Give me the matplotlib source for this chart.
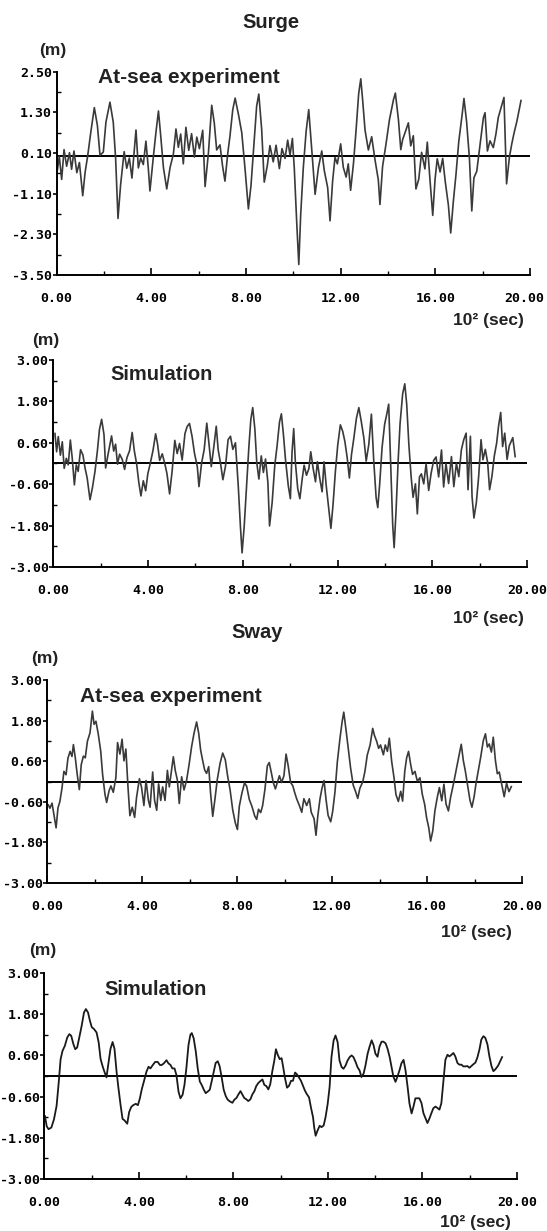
import matplotlib
matplotlib.use("Agg")
import matplotlib.pyplot as plt
from matplotlib.transforms import ScaledTranslation

# Surge, at-sea experiment (time in 10^2 s, displacement in m)
surge_exp_t = [
    0.03, 0.11, 0.21, 0.31, 0.42, 0.54, 0.63, 0.73, 0.85, 0.96,
    1.10, 1.20, 1.31, 1.44, 1.59, 1.72, 1.83, 1.97, 2.08, 2.25,
    2.39, 2.49, 2.59, 2.70, 2.85, 2.96, 3.07, 3.18, 3.30, 3.35,
    3.45, 3.55, 3.66, 3.77, 3.87, 3.94, 4.08, 4.20, 4.30, 4.39,
    4.51, 4.65, 4.79, 4.93, 5.04, 5.14, 5.24, 5.35, 5.46, 5.58,
    5.70, 5.82, 5.92, 6.03, 6.17, 6.27, 6.41, 6.55, 6.66, 6.76,
    6.90, 7.01, 7.11, 7.23, 7.32, 7.44, 7.54, 7.68, 7.82, 7.96,
    8.10, 8.21, 8.34, 8.45, 8.54, 8.66, 8.77, 8.90, 9.01, 9.15,
    9.27, 9.41, 9.52, 9.65, 9.76, 9.86, 9.96, 10.04, 10.14, 10.23,
    10.31, 10.42, 10.54, 10.65, 10.77, 10.92, 11.06, 11.20, 11.31, 11.45,
    11.55, 11.66, 11.76, 11.86, 12.00, 12.11, 12.23, 12.32, 12.42, 12.54,
    12.65, 12.76, 12.85, 12.93, 13.03, 13.17, 13.31, 13.45, 13.59, 13.66,
    13.77, 13.92, 14.06, 14.23, 14.31, 14.44, 14.54, 14.62, 14.72, 14.86,
    14.96, 15.07, 15.18, 15.30, 15.42, 15.56, 15.66, 15.77, 15.89, 15.99,
    16.08, 16.20, 16.31, 16.42, 16.55, 16.65, 16.76, 16.87, 16.99, 17.13,
    17.21, 17.32, 17.44, 17.54, 17.63, 17.75, 17.89, 18.03, 18.10, 18.20,
    18.31, 18.45, 18.56, 18.66, 18.80, 18.90, 19.01, 19.13, 19.23, 19.32,
    19.45, 19.62]
surge_exp_m = [
    -0.39, 0.00, -0.68, 0.20, -0.29, 0.11, -0.38, 0.16, -0.48, -0.18,
    -1.16, -0.47, 0.02, 0.71, 1.44, 0.91, 0.03, 0.13, 1.01, 1.60,
    1.01, -0.06, -1.83, -0.84, 0.14, -0.35, -0.05, -0.64, 0.34, 0.78,
    -0.34, -0.05, -0.24, 0.45, -0.34, -1.02, -0.04, 0.75, 1.34, 0.65,
    -0.33, -0.96, -0.33, 0.07, 0.81, 0.27, 0.66, -0.22, 0.86, 0.18,
    0.67, -0.02, 0.57, 0.23, 0.77, -0.89, 0.09, 1.51, 0.98, 0.19,
    0.34, -0.29, -0.73, 0.10, 0.59, 1.38, 1.72, 1.24, 0.70, -0.38,
    -1.55, -0.86, 0.41, 1.49, 1.84, 0.81, -0.76, -0.27, 0.32, -0.16,
    0.33, -0.36, 0.23, -0.06, 0.48, 0.04, 0.53, -0.35, -1.92, -3.19,
    -1.72, -0.34, 0.74, 1.38, 0.25, -1.12, -0.33, 0.16, -0.43, -0.92,
    -1.90, -0.72, -0.03, -0.22, 0.37, -0.32, -0.61, -0.22, -1.00, -0.21,
    0.77, 1.85, 2.29, 1.65, 0.77, 0.19, 0.58, -0.10, -0.69, -1.42,
    -0.30, 0.39, 1.08, 1.67, 1.87, 1.09, 0.20, 0.50, 0.70, 0.99,
    0.31, 0.61, -0.96, -0.67, 0.12, -0.37, 0.42, -0.66, -1.74, -0.66,
    -0.07, -0.46, -0.06, -0.75, -1.43, -2.26, -1.33, -0.55, 0.44, 1.22,
    1.71, 1.03, -0.05, -1.61, -0.63, -0.44, 0.35, 1.14, 1.29, 0.16,
    0.46, 0.26, 0.66, 1.15, 1.49, 1.74, -0.81, -0.02, 0.37, 0.67,
    1.05, 1.65]

# Surge, simulation
surge_sim_t = [
    0.07, 0.14, 0.21, 0.30, 0.38, 0.46, 0.55, 0.63, 0.72, 0.80,
    0.89, 0.97, 1.05, 1.15, 1.25, 1.34, 1.43, 1.55, 1.65, 1.76,
    1.86, 1.95, 2.04, 2.14, 2.21, 2.31, 2.39, 2.46, 2.55, 2.63,
    2.71, 2.80, 2.91, 3.01, 3.11, 3.22, 3.33, 3.42, 3.52, 3.61,
    3.70, 3.80, 3.90, 3.99, 4.09, 4.21, 4.32, 4.40, 4.49, 4.60,
    4.71, 4.80, 4.91, 5.02, 5.13, 5.23, 5.33, 5.44, 5.56, 5.65,
    5.75, 5.86, 5.96, 6.08, 6.15, 6.26, 6.37, 6.48, 6.57, 6.67,
    6.78, 6.88, 6.96, 7.06, 7.16, 7.27, 7.38, 7.48, 7.58, 7.69,
    7.81, 7.90, 7.97, 8.06, 8.16, 8.26, 8.34, 8.42, 8.51, 8.59,
    8.68, 8.78, 8.87, 8.96, 9.06, 9.13, 9.24, 9.35, 9.45, 9.55,
    9.63, 9.72, 9.80, 9.92, 10.01, 10.08, 10.15, 10.22, 10.32, 10.41,
    10.51, 10.59, 10.69, 10.79, 10.87, 10.97, 11.07, 11.15, 11.25, 11.35,
    11.43, 11.52, 11.63, 11.72, 11.81, 11.91, 12.01, 12.12, 12.22, 12.31,
    12.41, 12.50, 12.59, 12.69, 12.80, 12.90, 13.00, 13.11, 13.21, 13.32,
    13.43, 13.53, 13.63, 13.70, 13.78, 13.88, 13.99, 14.08, 14.16, 14.25,
    14.33, 14.39, 14.47, 14.56, 14.64, 14.75, 14.84, 14.92, 15.01, 15.11,
    15.19, 15.29, 15.37, 15.46, 15.54, 15.64, 15.74, 15.85, 15.95, 16.06,
    16.16, 16.27, 16.39, 16.48, 16.58, 16.69, 16.81, 16.91, 17.02, 17.12,
    17.23, 17.33, 17.43, 17.51, 17.61, 17.68, 17.76, 17.86, 17.96, 18.06,
    18.14, 18.24, 18.34, 18.42, 18.52, 18.62, 18.72, 18.80, 18.89, 18.97,
    19.06, 19.16, 19.25, 19.40, 19.50]
surge_sim_m = [
    0.87, 0.34, 0.78, 0.24, 0.63, -0.14, 0.15, -0.04, 0.68, 0.15,
    -0.62, -0.04, -0.23, 0.40, 0.25, -0.13, -0.42, -1.05, -0.71, -0.23,
    0.36, 0.99, 1.28, 0.84, -0.13, 0.26, 0.55, 0.80, 0.36, 0.56,
    -0.02, 0.27, 0.12, -0.17, 0.17, 0.37, 0.90, 0.37, -0.02, -0.55,
    -0.94, -0.50, -0.79, -0.30, -0.01, 0.38, 0.86, 0.57, 0.09, 0.28,
    -0.01, -0.30, -0.88, -0.20, 0.67, 0.29, 0.58, 0.10, 0.87, 1.07,
    1.16, 0.78, 0.30, -0.09, -0.67, 0.01, 0.40, 1.17, 0.59, -0.09,
    0.50, 1.08, 0.40, 0.01, -0.47, -0.08, 0.69, 0.79, 0.41, 0.60,
    -0.66, -1.82, -2.59, -1.82, -0.65, 0.51, 1.28, 1.62, 1.00, 0.03,
    -0.45, 0.22, -0.26, 0.13, -0.55, -1.81, -1.13, -0.06, 0.52, 1.20,
    1.44, 0.81, 0.14, -0.64, -1.02, 0.33, 1.01, 0.04, -0.73, -1.02,
    -0.44, -0.05, -0.34, -0.15, 0.34, -0.14, -0.53, 0.05, -0.43, -0.82,
    0.05, -0.62, -1.30, -1.88, -1.20, -0.23, 0.54, 1.12, 0.93, 0.64,
    0.16, -0.42, 0.26, 0.74, 1.32, 1.62, 1.23, 0.75, 0.07, 0.55,
    1.43, 0.07, -0.99, -1.28, -0.60, 0.46, 1.14, 1.43, 1.72, -0.12,
    -1.78, -2.44, -1.39, 0.08, 1.15, 2.02, 2.31, 1.73, 0.57, -0.40,
    -0.98, -0.59, -1.46, -0.39, -0.30, -0.59, -0.01, -0.78, -0.29, 0.09,
    0.19, -0.39, 0.39, -0.68, 0.00, -0.58, 0.20, -0.67, 0.01, -0.38,
    0.40, 0.69, 0.88, -0.76, 0.79, -0.96, -1.58, -1.14, -0.37, 0.69,
    0.11, 0.41, 0.02, -0.76, -0.37, 0.22, 0.60, 1.09, 1.48, 0.49,
    0.88, 0.12, 0.51, 0.75, 0.20]

# Sway, at-sea experiment
sway_exp_t = [
    0.04, 0.11, 0.20, 0.28, 0.37, 0.45, 0.53, 0.62, 0.70, 0.79,
    0.87, 0.96, 1.04, 1.10, 1.18, 1.26, 1.35, 1.43, 1.52, 1.60,
    1.69, 1.80, 1.90, 1.97, 2.05, 2.15, 2.25, 2.33, 2.43, 2.50,
    2.60, 2.68, 2.78, 2.89, 2.96, 3.06, 3.15, 3.23, 3.31, 3.40,
    3.48, 3.58, 3.68, 3.76, 3.88, 3.97, 4.07, 4.16, 4.26, 4.33,
    4.44, 4.52, 4.61, 4.69, 4.78, 4.86, 4.96, 5.06, 5.14, 5.25,
    5.31, 5.39, 5.48, 5.56, 5.66, 5.76, 5.87, 5.98, 6.08, 6.18,
    6.29, 6.38, 6.46, 6.54, 6.63, 6.71, 6.80, 6.88, 6.97, 7.06,
    7.16, 7.28, 7.39, 7.50, 7.60, 7.70, 7.81, 7.92, 8.01, 8.09,
    8.20, 8.31, 8.40, 8.51, 8.62, 8.74, 8.82, 8.90, 8.99, 9.07,
    9.17, 9.27, 9.35, 9.44, 9.52, 9.61, 9.69, 9.78, 9.87, 9.97,
    10.06, 10.15, 10.25, 10.34, 10.42, 10.51, 10.62, 10.72, 10.81, 10.93,
    11.04, 11.12, 11.24, 11.32, 11.40, 11.49, 11.57, 11.66, 11.74, 11.83,
    11.94, 12.02, 12.12, 12.22, 12.33, 12.42, 12.49, 12.58, 12.68, 12.78,
    12.89, 12.99, 13.08, 13.17, 13.29, 13.38, 13.48, 13.60, 13.71, 13.78,
    13.88, 13.96, 14.04, 14.16, 14.24, 14.33, 14.41, 14.51, 14.61, 14.69,
    14.79, 14.89, 14.97, 15.06, 15.14, 15.22, 15.31, 15.39, 15.49, 15.59,
    15.70, 15.80, 15.90, 15.98, 16.07, 16.15, 16.24, 16.33, 16.43, 16.52,
    16.62, 16.71, 16.80, 16.90, 16.99, 17.11, 17.22, 17.33, 17.44, 17.53,
    17.61, 17.70, 17.81, 17.89, 17.98, 18.06, 18.16, 18.26, 18.37, 18.46,
    18.54, 18.62, 18.71, 18.79, 18.88, 18.96, 19.04, 19.25, 19.35, 19.45,
    19.55]
sway_exp_m = [
    -0.69, -0.79, -0.64, -0.98, -1.37, -0.78, -0.59, -0.19, 0.30, 0.20,
    0.69, 0.89, 0.74, 1.09, 0.70, 0.21, -0.24, 0.50, 0.75, 0.70,
    1.19, 1.44, 2.08, 1.69, 1.78, 1.39, 0.90, 0.21, -0.38, -0.62,
    -0.28, -0.13, -0.32, 0.12, 1.15, 0.81, 1.25, 0.61, 0.96, -0.17,
    -1.01, -0.76, -1.06, -0.47, 0.08, -0.17, -0.71, 0.03, -0.56, -0.76,
    0.28, -0.56, -0.85, -0.07, -0.56, -0.16, -0.56, 0.33, -0.16, 0.43,
    0.73, 0.33, 0.04, -0.65, 0.14, -0.25, 0.04, 0.53, 1.03, 1.42,
    1.76, 1.42, 0.93, 0.64, 0.34, 0.24, 0.44, -0.35, -1.03, -0.54,
    0.05, 0.54, 0.84, 0.64, 0.15, -0.24, -0.83, -1.22, -1.42, -0.73,
    -0.34, -0.04, -0.14, -0.53, -0.73, -1.02, -1.12, -0.82, -0.92, -0.72,
    -0.23, 0.46, 0.56, 0.26, -0.03, -0.22, -0.03, 0.17, -0.03, 0.17,
    0.81, 0.46, -0.03, -0.12, -0.32, -0.52, -0.71, -0.91, -0.51, -0.71,
    -0.51, -0.91, -1.10, -1.59, -1.00, -0.51, -0.21, 0.03, -0.51, -1.00,
    -1.19, -0.90, -0.31, 0.58, 1.27, 1.76, 2.05, 1.56, 0.97, 0.39,
    -0.11, -0.30, -0.50, -0.20, -0.01, 0.29, 0.78, 1.08, 1.57, 1.37,
    1.18, 0.98, 1.08, 0.79, 1.08, 0.89, 1.28, 0.59, 0.10, -0.39,
    -0.59, -0.29, -0.58, 0.30, 0.70, 0.89, 0.50, 0.21, 0.30, 0.01,
    0.11, -0.38, -0.68, -1.07, -1.36, -1.76, -1.46, -0.87, -0.47, -0.18,
    -0.57, -0.08, -0.67, -0.87, -0.47, -0.08, 0.32, 0.71, 1.10, 0.61,
    0.32, -0.07, -0.56, -0.76, -0.46, -0.07, 0.32, 0.72, 1.21, 1.41,
    1.02, 1.11, 0.87, 1.31, 0.62, 0.23, 0.28, -0.45, -0.05, -0.30,
    -0.15]

# Sway, simulation
sway_sim_t = [
    0.03, 0.10, 0.18, 0.30, 0.41, 0.52, 0.61, 0.69, 0.77, 0.87,
    0.97, 1.06, 1.14, 1.23, 1.31, 1.39, 1.48, 1.58, 1.68, 1.76,
    1.85, 1.93, 2.01, 2.10, 2.21, 2.30, 2.38, 2.46, 2.55, 2.63,
    2.72, 2.80, 2.89, 2.97, 3.06, 3.14, 3.23, 3.31, 3.39, 3.51,
    3.59, 3.68, 3.76, 3.87, 3.96, 4.04, 4.13, 4.21, 4.32, 4.41,
    4.49, 4.58, 4.69, 4.80, 4.89, 4.97, 5.06, 5.17, 5.25, 5.34,
    5.42, 5.51, 5.59, 5.68, 5.76, 5.85, 5.93, 6.01, 6.10, 6.18,
    6.24, 6.32, 6.41, 6.49, 6.58, 6.66, 6.75, 6.83, 6.92, 7.00,
    7.08, 7.17, 7.25, 7.34, 7.42, 7.51, 7.59, 7.68, 7.76, 7.85,
    7.96, 8.04, 8.13, 8.21, 8.30, 8.38, 8.46, 8.55, 8.63, 8.72,
    8.80, 8.89, 8.97, 9.06, 9.14, 9.23, 9.31, 9.39, 9.48, 9.56,
    9.65, 9.73, 9.80, 9.87, 9.96, 10.04, 10.10, 10.18, 10.27, 10.35,
    10.44, 10.52, 10.61, 10.69, 10.77, 10.86, 10.94, 11.03, 11.11, 11.20,
    11.28, 11.37, 11.42, 11.48, 11.56, 11.65, 11.73, 11.82, 11.90, 11.99,
    12.07, 12.15, 12.24, 12.32, 12.41, 12.49, 12.58, 12.66, 12.75, 12.83,
    12.92, 13.00, 13.08, 13.17, 13.25, 13.34, 13.42, 13.51, 13.59, 13.68,
    13.76, 13.85, 13.93, 14.01, 14.10, 14.18, 14.27, 14.35, 14.44, 14.52,
    14.61, 14.69, 14.77, 14.86, 14.94, 15.03, 15.11, 15.20, 15.28, 15.37,
    15.45, 15.54, 15.62, 15.70, 15.79, 15.87, 15.96, 16.04, 16.13, 16.21,
    16.30, 16.38, 16.46, 16.55, 16.63, 16.72, 16.80, 16.89, 16.97, 17.06,
    17.14, 17.23, 17.31, 17.39, 17.48, 17.56, 17.65, 17.73, 17.82, 17.90,
    17.99, 18.07, 18.15, 18.24, 18.32, 18.41, 18.49, 18.58, 18.66, 18.75,
    18.83, 18.92, 19.00, 19.08, 19.20, 19.30, 19.37]
sway_sim_m = [
    -1.17, -1.46, -1.55, -1.50, -1.26, -0.87, -0.19, 0.49, 0.73, 0.88,
    1.12, 1.22, 1.17, 0.93, 0.78, 0.83, 1.12, 1.46, 1.85, 1.95,
    1.85, 1.61, 1.42, 1.37, 1.27, 0.98, 0.50, 0.30, 0.11, -0.04,
    0.40, 0.79, 0.99, 0.79, 0.11, -0.37, -0.86, -1.25, -1.29, -1.39,
    -1.05, -0.90, -0.85, -0.81, -0.85, -0.66, -0.37, -0.17, 0.12, 0.27,
    0.22, 0.31, 0.41, 0.41, 0.32, 0.32, 0.37, 0.46, 0.37, 0.32,
    0.22, 0.22, 0.03, -0.46, -0.65, -0.55, -0.26, 0.22, 0.90, 1.20,
    1.25, 1.10, 0.71, 0.23, -0.16, -0.26, -0.40, -0.50, -0.45, -0.40,
    -0.16, 0.13, 0.38, 0.43, 0.28, -0.06, -0.40, -0.59, -0.69, -0.74,
    -0.78, -0.69, -0.64, -0.54, -0.44, -0.54, -0.64, -0.68, -0.73, -0.68,
    -0.54, -0.44, -0.29, -0.20, -0.15, -0.10, -0.26, -0.29, -0.39, -0.24,
    0.15, 0.44, 0.78, 0.63, 0.49, 0.52, 0.29, -0.05, -0.34, -0.29,
    -0.14, -0.14, 0.10, 0.05, -0.04, -0.14, -0.28, -0.43, -0.53, -0.62,
    -0.91, -1.20, -1.50, -1.74, -1.59, -1.45, -1.49, -1.44, -1.20, -0.81,
    -0.33, 0.55, 1.03, 1.18, 0.99, 0.45, 0.26, 0.21, 0.31, 0.45,
    0.55, 0.60, 0.55, 0.41, 0.26, 0.16, -0.03, 0.07, 0.31, 0.65,
    0.85, 1.04, 0.90, 0.65, 0.56, 0.85, 1.00, 1.00, 0.95, 0.80,
    0.56, 0.27, -0.02, -0.17, -0.02, 0.17, 0.37, 0.47, 0.18, -0.31,
    -0.80, -1.09, -0.89, -0.65, -0.65, -0.65, -0.79, -1.08, -1.23, -1.37,
    -1.23, -1.08, -0.94, -0.89, -0.93, -0.98, -0.79, -0.11, 0.47, 0.62,
    0.57, 0.62, 0.67, 0.57, 0.38, 0.33, 0.33, 0.28, 0.28, 0.29,
    0.24, 0.29, 0.34, 0.39, 0.53, 0.77, 1.06, 1.16, 1.11, 0.92,
    0.58, 0.29, 0.14, 0.19, 0.30, 0.45, 0.55]

# Axis ticks and labels
x_major = [0, 4, 8, 12, 16, 20]
x_minor = [2, 6, 10, 14, 18]
x_labels = ['0.00', '4.00', '8.00', '12.00', '16.00', '20.00']
surge_exp_yticks = [2.5, 1.3, 0.1, -1.1, -2.3, -3.5]
surge_exp_ylabels = ['2.50', '1.30', '0.10', '-1.10', '-2.30', '-3.50']
std_yticks = [3.0, 1.8, 0.6, -0.6, -1.8, -3.0]
std_ylabels = ['3.00', '1.80', '0.60', '-0.60', '-1.80', '-3.00']

W, H = 547, 1231
fig = plt.figure(figsize=(W / 100, H / 100), dpi=100)

bold = dict(family=['Liberation Sans', 'DejaVu Sans'], fontweight='bold', color='#222222')
mono = dict(family='DejaVu Sans Mono', weight='bold', size=9.5)


def add_panel(x0, y0, x1, y1):
    # rectangle given in pixels from the top-left corner
    return fig.add_axes([x0 / W, 1 - y1 / H, (x1 - x0) / W, (y1 - y0) / H])


def setup(ax, yticks, ylabels):
    ax.set_xlim(0, 20)
    ax.set_ylim(yticks[-1], yticks[0])
    for s in ['top', 'right']:
        ax.spines[s].set_visible(False)
    for s in ['left', 'bottom']:
        ax.spines[s].set_linewidth(1.4)
    ax.set_xticks(x_major)
    ax.set_xticklabels(x_labels, **mono)
    ax.set_xticks(x_minor, minor=True)
    ax.set_yticks(yticks)
    ax.set_yticklabels(ylabels, **mono)
    ax.set_yticks([(a + b) / 2 for a, b in zip(yticks[:-1], yticks[1:])], minor=True)
    ax.tick_params(axis='x', which='major', direction='in', length=5, width=1.2, pad=12)
    ax.tick_params(axis='x', which='minor', direction='in', length=3, width=1)
    ax.tick_params(axis='y', which='major', direction='out', length=3, width=1.2, pad=0.3)
    ax.tick_params(axis='y', which='minor', direction='in', length=3, width=1)
    ax.axhline(0, color='black', lw=1.4)


def ftext(x, y, s, size, **kw):
    fig.text(x / W, 1 - y / H, s, fontsize=size, **bold, **kw)


# Panel 1: surge, at-sea experiment
ax1 = add_panel(56.7, 71.7, 530, 275)
setup(ax1, surge_exp_yticks, surge_exp_ylabels)
ax1.plot(surge_exp_t, surge_exp_m, color='#3a3a3a', lw=1.2)
# keep the last tick label inside the page
last = ax1.get_xticklabels()[-1]
last.set_transform(last.get_transform() + ScaledTranslation(-4 / 72, 0, fig.dpi_scale_trans))

# Panel 2: surge, simulation
ax2 = add_panel(53.3, 360, 527, 567)
setup(ax2, std_yticks, std_ylabels)
ax2.plot(surge_sim_t, surge_sim_m, color='#3a3a3a', lw=1.2)

# Panel 3: sway, at-sea experiment
ax3 = add_panel(47.3, 680, 522, 883)
setup(ax3, std_yticks, std_ylabels)
ax3.plot(sway_exp_t, sway_exp_m, color='#3a3a3a', lw=1.2)

# Panel 4: sway, simulation
ax4 = add_panel(44.3, 973, 517, 1179)
setup(ax4, std_yticks, std_ylabels)
ax4.plot(sway_sim_t, sway_sim_m, color='#1a1a1a', lw=1.3)

# Titles and labels
ftext(271, 23, 'Surge', 14.5, ha='center', va='center')
ftext(257, 633, 'Sway', 14.5, ha='center', va='center')
for x, y in [(53, 51), (46, 340), (45, 658), (43, 950)]:
    ftext(x, y, '(m)', 12.5, ha='center', va='center')
for x, y in [(488, 321), (488, 619), (476, 932), (475, 1222)]:
    ftext(x, y, '10² (sec)', 12.5, ha='center', va='center')
ftext(98, 83, 'At-sea experiment', 15, ha='left', va='baseline')
ftext(110, 380, 'Simulation', 14.5, ha='left', va='baseline')
ftext(80, 702, 'At-sea experiment', 15, ha='left', va='baseline')
ftext(104, 995, 'Simulation', 14.5, ha='left', va='baseline')

fig.savefig('out.png', dpi=100)
